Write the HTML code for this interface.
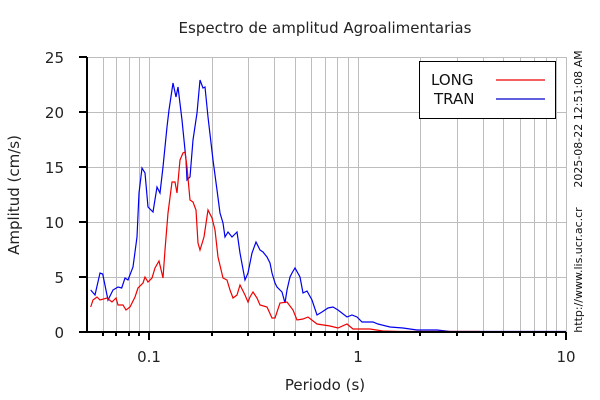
<!DOCTYPE html>
<html><head><meta charset="utf-8"><style>
html,body{margin:0;padding:0;background:#fff}
svg{display:block;font-family:"DejaVu Sans","Liberation Sans",sans-serif}
</style></head><body>
<svg width="600" height="400" viewBox="0 0 600 400" xmlns="http://www.w3.org/2000/svg">
<g stroke="#bdbdbd" stroke-width="1">
<line x1="87" y1="57.5" x2="566" y2="57.5"/>
<line x1="87" y1="112.5" x2="566" y2="112.5"/>
<line x1="87" y1="167.5" x2="566" y2="167.5"/>
<line x1="87" y1="222.5" x2="566" y2="222.5"/>
<line x1="87" y1="277.5" x2="566" y2="277.5"/>
<line x1="103.5" y1="57" x2="103.5" y2="332"/>
<line x1="116.5" y1="57" x2="116.5" y2="332"/>
<line x1="129.5" y1="57" x2="129.5" y2="332"/>
<line x1="139.5" y1="57" x2="139.5" y2="332"/>
<line x1="149.5" y1="57" x2="149.5" y2="332"/>
<line x1="212.5" y1="57" x2="212.5" y2="332"/>
<line x1="248.5" y1="57" x2="248.5" y2="332"/>
<line x1="274.5" y1="57" x2="274.5" y2="332"/>
<line x1="295.5" y1="57" x2="295.5" y2="332"/>
<line x1="311.5" y1="57" x2="311.5" y2="332"/>
<line x1="325.5" y1="57" x2="325.5" y2="332"/>
<line x1="337.5" y1="57" x2="337.5" y2="332"/>
<line x1="348.5" y1="57" x2="348.5" y2="332"/>
<line x1="358.5" y1="57" x2="358.5" y2="332"/>
<line x1="420.5" y1="57" x2="420.5" y2="332"/>
<line x1="457.5" y1="57" x2="457.5" y2="332"/>
<line x1="483.5" y1="57" x2="483.5" y2="332"/>
<line x1="503.5" y1="57" x2="503.5" y2="332"/>
<line x1="520.5" y1="57" x2="520.5" y2="332"/>
<line x1="534.5" y1="57" x2="534.5" y2="332"/>
<line x1="546.5" y1="57" x2="546.5" y2="332"/>
<line x1="556.5" y1="57" x2="556.5" y2="332"/>
<line x1="566.5" y1="57" x2="566.5" y2="332"/>
</g>
<polyline fill="none" stroke="#0000ee" stroke-width="1.2" points="90.7,290 95,295 100,273 102.7,274 108,300 113,290 118,287 121.7,288 125,278 128,280 133,267 137,237 139,193 142,168 145,173 148,207 153,212 157,187 160,193 163,167 167,127 169,110 173,83 176,97 178,87 182,120 186,160 187,180 190,177 193,140 197,113 200,80 203,88 205,87 208,117 213,160 217,190 220,213 223,223 225,237 228,232 232,237 237,232 240,253 245,280 248,273 252,253 256,242 260,250 263,252 267,257 270,263 272,273 275,283 277,287 282,292 285,303 287,290 290,277 292,273 295,268 300,277 303,293 307,291 312,300 317,315 322,312 328,308 333,307 338,310 347,317 352,315 357,317 362,322 373,322 378,324 390,327 403,328 417,330 437,330 450,331.5 566,331.5"/>
<polyline fill="none" stroke="#ee0000" stroke-width="1.2" points="90.7,307 93,300 97,297 100,300 107,298 112,302 116,298 118,305 123,305 126,310 130,307 135,297 138,288 143,283 145,277 148,282 152,278 155,268 159,261 163,278 165,250 168,213 172,182 175,182 177,193 180,160 183,153 185,152 187,167 190,200 193,202 196,210 198,243 200,250 204,237 208,210 212,218 215,230 218,257 223,278 227,280 230,290 233,298 237,295 240,285 245,295 248,302 250,297 253,292 257,298 260,305 267,307 272,318 275,318 280,303 287,302 293,310 297,320 303,319 308,317 317,324 330,326 338,328 347,324 353,329 370,329 383,331 400,331.5 480,331.5"/>
<g stroke="#000" stroke-width="2">
<line x1="87" y1="57" x2="87" y2="333"/>
<line x1="86" y1="332" x2="566" y2="332"/>
</g>
<g stroke="#000" stroke-width="2">
<line x1="79" y1="57" x2="87" y2="57"/><line x1="79" y1="112" x2="87" y2="112"/><line x1="79" y1="167" x2="87" y2="167"/><line x1="79" y1="222" x2="87" y2="222"/><line x1="79" y1="277" x2="87" y2="277"/><line x1="79" y1="332" x2="87" y2="332"/>
<line x1="149" y1="332" x2="149" y2="340"/><line x1="358" y1="332" x2="358" y2="340"/><line x1="566" y1="332" x2="566" y2="340"/>
<line x1="103" y1="332" x2="103" y2="336"/><line x1="116" y1="332" x2="116" y2="336"/><line x1="129" y1="332" x2="129" y2="336"/><line x1="139" y1="332" x2="139" y2="336"/>
<line x1="212" y1="332" x2="212" y2="336"/><line x1="248" y1="332" x2="248" y2="336"/><line x1="274" y1="332" x2="274" y2="336"/><line x1="295" y1="332" x2="295" y2="336"/><line x1="311" y1="332" x2="311" y2="336"/><line x1="325" y1="332" x2="325" y2="336"/><line x1="337" y1="332" x2="337" y2="336"/><line x1="348" y1="332" x2="348" y2="336"/>
<line x1="420" y1="332" x2="420" y2="336"/><line x1="457" y1="332" x2="457" y2="336"/><line x1="483" y1="332" x2="483" y2="336"/><line x1="503" y1="332" x2="503" y2="336"/><line x1="520" y1="332" x2="520" y2="336"/><line x1="534" y1="332" x2="534" y2="336"/><line x1="546" y1="332" x2="546" y2="336"/><line x1="556" y1="332" x2="556" y2="336"/>
</g>
<g font-size="15" fill="#222" text-anchor="end">
<text x="64" y="63">25</text><text x="64" y="118">20</text><text x="64" y="173">15</text><text x="64" y="228">10</text><text x="64" y="283">5</text><text x="64" y="338">0</text>
</g>
<g font-size="15" fill="#222" text-anchor="middle">
<text x="149" y="362">0.1</text><text x="358" y="362">1</text><text x="566" y="362">10</text>
<text x="325" y="390">Periodo (s)</text>
<text x="325" y="33">Espectro de amplitud Agroalimentarias</text>
<text transform="translate(19,195) rotate(-90)">Amplitud (cm/s)</text>
</g>
<rect x="419.5" y="61.5" width="136" height="57" fill="#fff" stroke="#000" stroke-width="1"/>
<text x="431" y="85" font-size="15" fill="#111">LONG</text>
<text x="434" y="104" font-size="15" fill="#111">TRAN</text>
<line x1="496" y1="80" x2="545" y2="80" stroke="#ee0000" stroke-width="1.2"/>
<line x1="496" y1="99" x2="545" y2="99" stroke="#0000cc" stroke-width="1.2"/>
<g font-size="11" fill="#111" text-anchor="middle">
<text transform="translate(582,119) rotate(-90)">2025-08-22 12:51:08 AM</text>
<text transform="translate(582,270) rotate(-90)">http://www.lis.ucr.ac.cr</text>
</g>
</svg>
</body></html>
